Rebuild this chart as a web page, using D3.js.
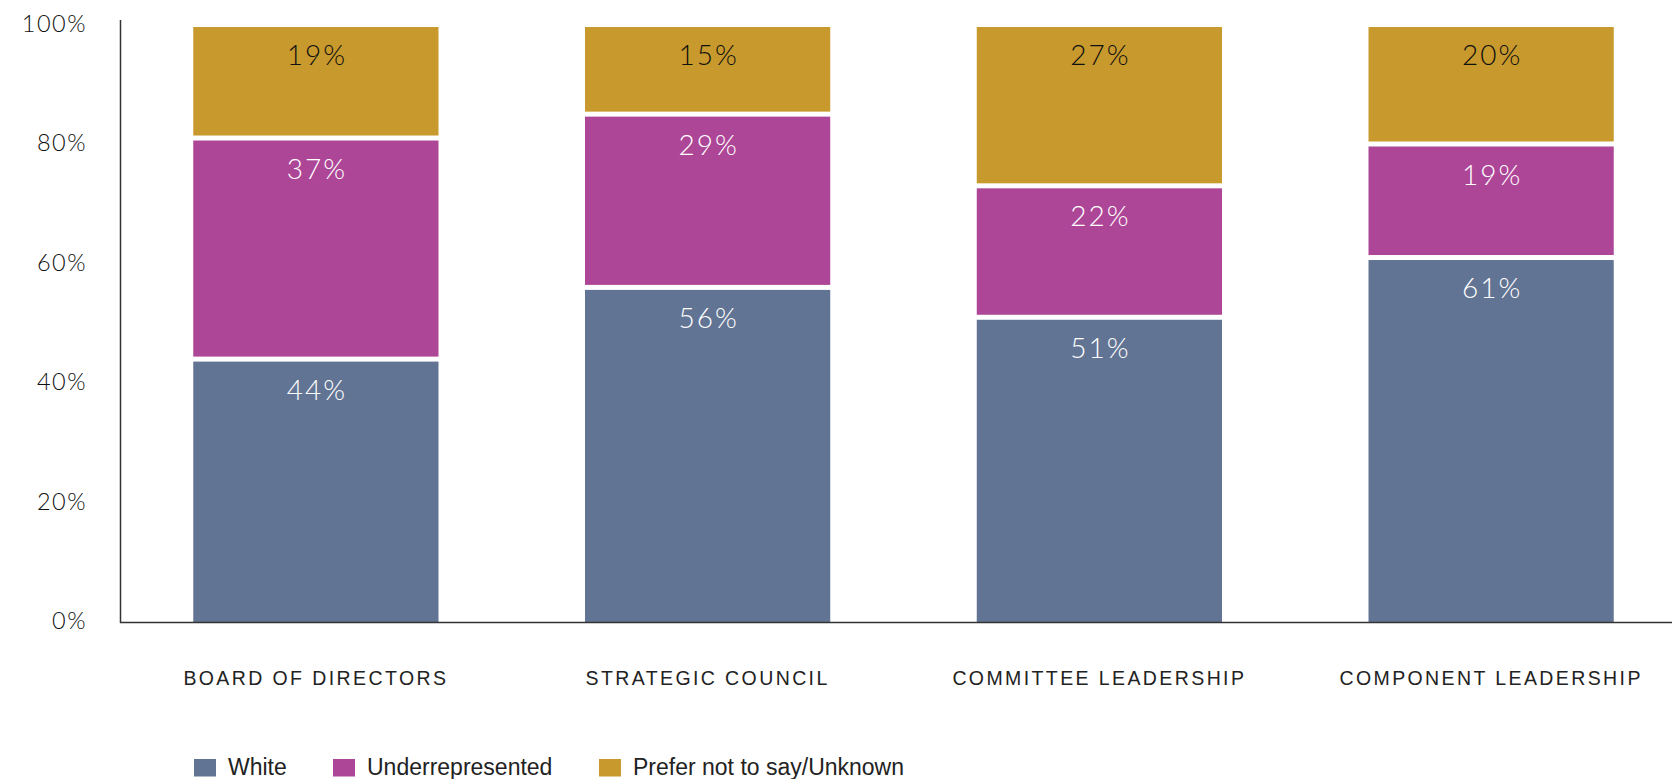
<!DOCTYPE html>
<html>
<head>
<meta charset="utf-8">
<script src="https://cdn.jsdelivr.net/npm/d3@7"></script>
<style>
  html, body { margin: 0; padding: 0; background: #ffffff; }
  svg { display: block; }
</style>
</head>
<body>
<svg id="chart" width="1672" height="779"></svg>
<script>
// Leadership composition by group, in percent (bottom to top of each stack)
const categories = ["BOARD OF DIRECTORS", "STRATEGIC COUNCIL", "COMMITTEE LEADERSHIP", "COMPONENT LEADERSHIP"];
const seriesNames = ["White", "Underrepresented", "Prefer not to say/Unknown"];
const white = [44, 56, 51, 61];
const underrepresented = [37, 29, 22, 19];
const unknown = [19, 15, 27, 20];
const yTicks = [0, 20, 40, 60, 80, 100];

const colors = ["#627494", "#ae4697", "#c8992c"];
const labelColors = ["#ffffff", "#ffffff", "#111111"];

const rows = categories.map((c, i) => ({
  category: c,
  "White": white[i],
  "Underrepresented": underrepresented[i],
  "Prefer not to say/Unknown": unknown[i]
}));

const svg = d3.select("#chart");
const W = 1672;
const axisX = 120, baseY = 622, axisTop = 20;
const valueFont = "Lato, 'Open Sans', sans-serif";
const gap = 5;

const x = d3.scaleBand()
  .domain(categories)
  .range([axisX, axisX + 4 * 391.75])
  .paddingInner(0.374)
  .paddingOuter(0.187);

const y = d3.scaleLinear().domain([0, 100]).range([baseY, 24.5]);

const stack = d3.stack().keys(seriesNames);
const layers = stack(rows);

// stacked segments, separated by a thin white gap
const g = svg.append("g");
layers.forEach((layer, li) => {
  g.selectAll(null)
    .data(layer)
    .enter()
    .append("rect")
    .attr("x", d => x(d.data.category))
    .attr("width", x.bandwidth())
    .attr("y", d => y(d[1]) + gap / 2)
    .attr("height", d => (d[0] === 0 ? y(d[0]) : y(d[0]) - gap / 2) - (y(d[1]) + gap / 2))
    .attr("fill", colors[li]);

  g.selectAll(null)
    .data(layer)
    .enter()
    .append("text")
    .attr("x", d => x(d.data.category) + x.bandwidth() / 2 + 1)
    .attr("y", d => y(d[1]) + gap / 2 + 27)
    .attr("text-anchor", "middle")
    .attr("dominant-baseline", "central")
    .attr("font-family", valueFont)
    .attr("font-weight", 300)
    .attr("font-size", 28)
    .attr("letter-spacing", 2)
    .attr("fill", labelColors[li])
    .text(d => (d[1] - d[0]) + "%");
});

// y axis tick labels
svg.append("g")
  .selectAll("text")
  .data(yTicks)
  .enter()
  .append("text")
  .attr("x", 87)
  .attr("y", d => y(d) - 2)
  .attr("text-anchor", "end")
  .attr("dominant-baseline", "central")
  .attr("font-family", valueFont)
  .attr("font-weight", 300)
  .attr("font-size", 23.5)
  .attr("letter-spacing", 1.5)
  .attr("fill", "#111111")
  .text(d => d + "%");

// axis lines
svg.append("line")
  .attr("x1", axisX + 0.5).attr("x2", axisX + 0.5)
  .attr("y1", axisTop).attr("y2", baseY + 1)
  .attr("stroke", "#333333").attr("stroke-width", 1.5);
svg.append("line")
  .attr("x1", axisX).attr("x2", W)
  .attr("y1", baseY + 0.5).attr("y2", baseY + 0.5)
  .attr("stroke", "#333333").attr("stroke-width", 1.5);

// category labels
svg.append("g")
  .selectAll("text")
  .data(categories)
  .enter()
  .append("text")
  .attr("x", d => x(d) + x.bandwidth() / 2)
  .attr("y", 678)
  .attr("text-anchor", "middle")
  .attr("dominant-baseline", "central")
  .attr("font-family", "'Liberation Sans', Arial, sans-serif")
  .attr("font-size", 19.5)
  .attr("letter-spacing", 2.4)
  .attr("fill", "#222222")
  .text(d => d);

// legend
const legendX = [194, 333, 599];
const legend = svg.append("g");
seriesNames.forEach((name, i) => {
  legend.append("rect")
    .attr("x", legendX[i]).attr("y", 759)
    .attr("width", 22).attr("height", 17.5)
    .attr("fill", colors[i]);
  legend.append("text")
    .attr("x", legendX[i] + 34).attr("y", 767)
    .attr("dominant-baseline", "central")
    .attr("font-family", "'Liberation Sans Narrow', 'Liberation Sans', Arial, sans-serif")
    .attr("font-size", 23)
    .attr("fill", "#222222")
    .text(name);
});
</script>
</body>
</html>
